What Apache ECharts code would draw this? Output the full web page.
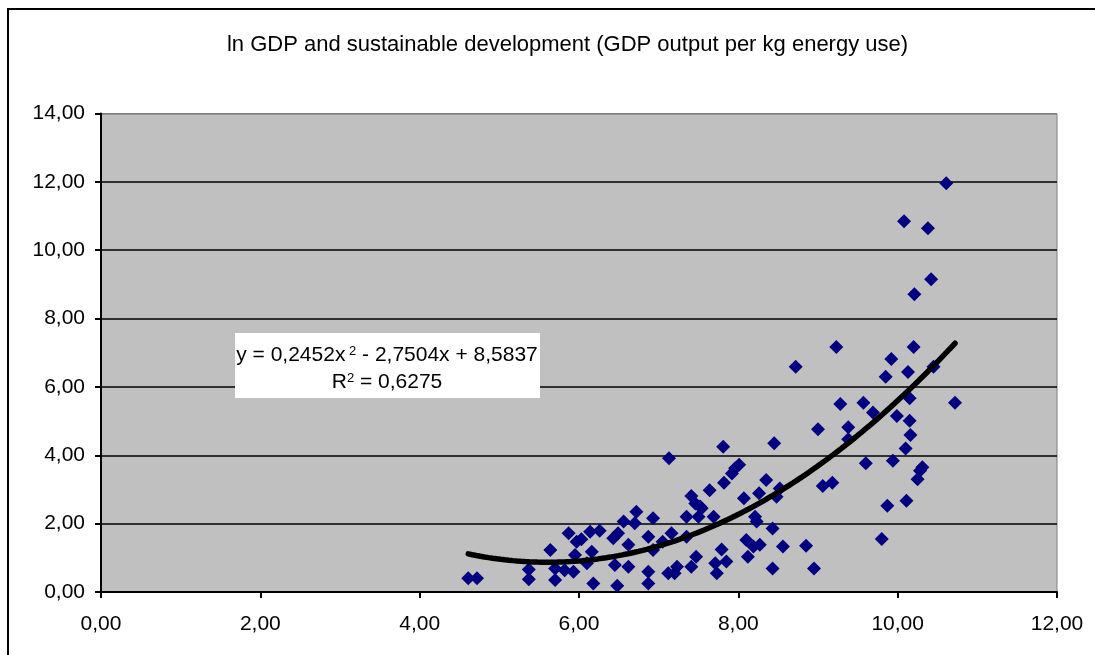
<!DOCTYPE html>
<html>
<head>
<meta charset="utf-8">
<script src="https://cdn.jsdelivr.net/npm/echarts@6/dist/echarts.min.js"></script>
<style>
html,body{margin:0;padding:0;background:#fff;}
#c{width:1095px;height:655px;}
</style>
</head>
<body>
<div id="c"></div>
<script>
// ln GDP (x) and GDP output per kg energy use (y)
var lnGdp = [4.61,4.72,5.37,5.37,5.64,5.70,5.70,5.82,5.87,5.93,5.95,5.97,6.03,6.10,6.14,6.16,6.18,6.26,6.43,6.45,6.48,6.49,6.56,6.62,6.62,6.70,6.72,6.87,6.87,6.87,6.93,6.93,7.05,7.12,7.13,7.16,7.20,7.23,7.35,7.35,7.41,7.41,7.46,7.47,7.50,7.52,7.54,7.64,7.69,7.71,7.73,7.79,7.81,7.82,7.85,7.92,7.96,8.01,8.07,8.10,8.12,8.19,8.21,8.23,8.26,8.27,8.35,8.43,8.43,8.45,8.48,8.52,8.56,8.72,8.85,8.95,9.00,9.06,9.18,9.23,9.28,9.38,9.38,9.57,9.60,9.69,9.80,9.85,9.87,9.92,9.94,9.99,10.08,10.10,10.11,10.13,10.15,10.15,10.16,10.20,10.21,10.25,10.28,10.31,10.38,10.42,10.45,10.61,10.72];
var gdpPerKgEnergy = [0.40,0.40,0.66,0.37,1.23,0.35,0.69,0.64,1.72,0.59,1.08,1.47,1.54,0.84,1.76,1.18,0.25,1.79,1.57,0.79,0.18,1.72,2.06,1.38,0.74,2.01,2.35,1.62,0.59,0.25,2.16,1.23,1.47,0.55,3.91,1.72,0.55,0.74,2.20,1.62,2.81,0.74,2.59,1.03,2.20,2.50,2.45,2.98,2.20,0.84,0.55,1.24,4.25,3.20,0.89,3.47,3.62,3.72,2.74,1.52,1.03,1.33,2.20,2.06,2.89,1.38,3.28,1.86,0.69,4.35,2.79,3.03,1.33,6.59,1.35,0.69,4.76,3.10,3.20,7.17,5.50,4.82,4.47,5.54,3.77,5.25,1.55,6.30,2.52,6.82,3.84,5.15,10.85,4.20,2.67,6.44,5.67,5.01,4.59,7.17,8.71,3.30,3.55,3.65,10.64,9.15,6.59,11.96,5.54];
// trendline coefficients shown on the chart: y = a x^2 + b x + c
var trendCoef = [0.2452, -2.7504, 8.5837];
var xTicks = [0,2,4,6,8,10,12];
var yTicks = [0,2,4,6,8,10,12,14];

var points = lnGdp.map(function(x,i){return [x, gdpPerKgEnergy[i]];});
var xMin = Math.min.apply(null, lnGdp), xMax = Math.max.apply(null, lnGdp);
var trend = [];
var steps = 120;
for (var i=0;i<=steps;i++){
  var x = xMin + (xMax-xMin)*i/steps;
  trend.push([x, trendCoef[0]*x*x + trendCoef[1]*x + trendCoef[2]]);
}
function fmt(v){return v.toFixed(2).replace('.', ',');}
var FONT = '"Liberation Sans", Arial, sans-serif';

var chart = echarts.init(document.getElementById('c'), null, {renderer:'canvas'});
chart.setOption({
  animation:false,
  backgroundColor:'#ffffff',
  grid:{left:101, top:113.5, right:38, bottom:63, show:true, backgroundColor:'#C0C0C0', borderColor:'#808080', borderWidth:1},
  xAxis:{type:'value', min:xTicks[0], max:xTicks[xTicks.length-1], interval:2,
    axisLine:{show:true, onZero:false, lineStyle:{color:'#000', width:2}},
    axisTick:{show:true, inside:false, length:6, lineStyle:{color:'#000', width:2}},
    axisLabel:{margin:22, fontFamily:FONT, fontSize:21, color:'#000', formatter:fmt},
    splitLine:{show:false}},
  yAxis:{type:'value', min:yTicks[0], max:yTicks[yTicks.length-1], interval:2,
    axisLine:{show:true, onZero:false, lineStyle:{color:'#000', width:2}},
    axisTick:{show:true, inside:false, length:6, lineStyle:{color:'#000', width:2}},
    axisLabel:{margin:16, fontFamily:FONT, fontSize:21, color:'#000', formatter:fmt},
    splitLine:{show:true, lineStyle:{color:['#000','#000','#000','#000','#000','#000','#000','#808080'], width:1.5}}},
  series:[
    {type:'scatter', data:points, symbol:'diamond', symbolSize:14, itemStyle:{color:'#000080', opacity:1}, z:2},
    {type:'line', data:trend, showSymbol:false, symbol:'none', smooth:false, lineStyle:{color:'#000', width:5.5, cap:'round'}, z:3}
  ],
  graphic:[
    {type:'rect', shape:{x:8, y:9, width:1200, height:1000}, style:{fill:'none', stroke:'#000', lineWidth:2}, z:-1, silent:true},
    {type:'text', x:567.5, y:45, style:{text:'ln GDP and sustainable development (GDP output per kg energy use)', font:'22px '+FONT, fill:'#000', textAlign:'center', textVerticalAlign:'middle'}},
    {type:'rect', shape:{x:235, y:333, width:305, height:65}, style:{fill:'#fff', stroke:'none'}, z:10},
    {type:'text', x:387, y:355, z:11, style:{rich:{n:{fontSize:21,fontFamily:FONT,fill:'#000', verticalAlign:'bottom'}, s:{fontSize:13,fontFamily:FONT,fill:'#000', verticalAlign:'top'}}, text:'{n|y = 0,2452x}{s| 2}{n| - 2,7504x + 8,5837}', textAlign:'center', textVerticalAlign:'middle'}},
    {type:'text', x:387, y:382, z:11, style:{rich:{n:{fontSize:21,fontFamily:FONT,fill:'#000', verticalAlign:'bottom'}, s:{fontSize:13,fontFamily:FONT,fill:'#000', verticalAlign:'top'}}, text:'{n|R}{s|2}{n| = 0,6275}', textAlign:'center', textVerticalAlign:'middle'}}
  ]
});
</script>
</body>
</html>
